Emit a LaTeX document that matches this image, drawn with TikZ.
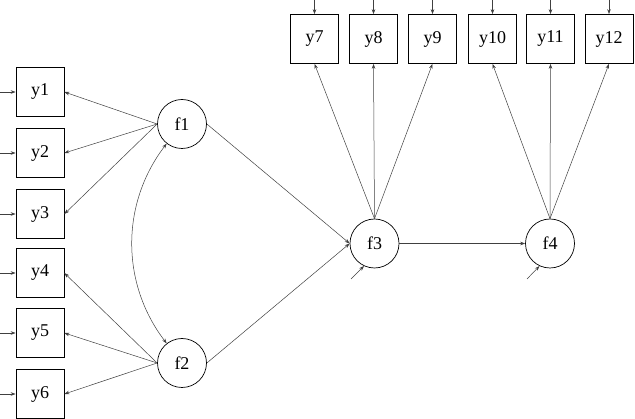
\documentclass[tikz,border=0pt]{standalone}
\usepackage{fontspec}
\setmainfont{Liberation Serif}
\usetikzlibrary{arrows.meta}
\begin{document}
\begin{tikzpicture}[x=1pt,y=-1pt,
  obs/.style={draw=black,line width=0.7pt,minimum width=48pt,minimum height=49pt,inner sep=0pt,font=\fontsize{18}{20}\selectfont},
  lat/.style={draw=black,line width=0.7pt,circle,minimum size=49pt,inner sep=0pt,font=\fontsize{18}{20}\selectfont},
  path/.style={draw=black!75,line width=0.5pt,-{Stealth[length=5pt,width=3.5pt]}},
  bipath/.style={draw=black!75,line width=0.5pt,{Stealth[length=5pt,width=3.5pt]}-{Stealth[length=5pt,width=3.5pt]}}]
\useasboundingbox (0,0) rectangle (635,419);
\node[obs] (y1) at (40,92) {y1};
\node[obs] (y2) at (40,153) {y2};
\node[obs] (y3) at (40,214) {y3};
\node[obs] (y4) at (40,273) {y4};
\node[obs] (y5) at (40,333) {y5};
\node[obs] (y6) at (40,394) {y6};
\node[obs] (y7) at (314.5,39) {y7};
\node[obs] (y8) at (373.5,39) {y8};
\node[obs] (y9) at (432.5,39) {y9};
\node[obs] (y10) at (492.5,39) {y10};
\node[obs] (y11) at (550.5,39) {y11};
\node[obs] (y12) at (609,39) {y12};
\node[lat] (f1) at (182,124) {f1};
\node[lat] (f2) at (182,363) {f2};
\node[lat] (f3) at (374.5,243.5) {f3};
\node[lat] (f4) at (550,243.5) {f4};
% residual arrows
\foreach \n in {y1,y2,y3,y4,y5,y6}{
  \coordinate (r\n) at (\n.west -| 0,0);
  \draw[path] (r\n) -- (\n.west);
}
\foreach \n in {y7,y8,y9,y10,y11,y12}{
  \coordinate (r\n) at (\n.north |- 0,0);
  \draw[path] (r\n) -- (\n.north);
}
\coordinate (rf3) at (351,279);
\coordinate (rf4) at (527,279);
\draw[path] (rf3) -- (f3.245);
\draw[path] (rf4) -- (f4.245);
% loadings
\foreach \n in {y1,y2,y3}{\draw[path] (f1.west) -- (\n.east);}
\foreach \n in {y4,y5,y6}{\draw[path] (f2.west) -- (\n.east);}
\foreach \n in {y7,y8,y9}{\draw[path] (f3.north) -- (\n.south);}
\foreach \n in {y10,y11,y12}{\draw[path] (f4.north) -- (\n.south);}
% structural
\draw[path] (f1.east) -- (f3.west);
\draw[path] (f2.east) -- (f3.west);
\draw[path] (f3.east) -- (f4.west);
\draw[bipath] (f1.232) .. controls +(-46,60) and +(-46,-60) .. (f2.128);
\end{tikzpicture}
\end{document}
